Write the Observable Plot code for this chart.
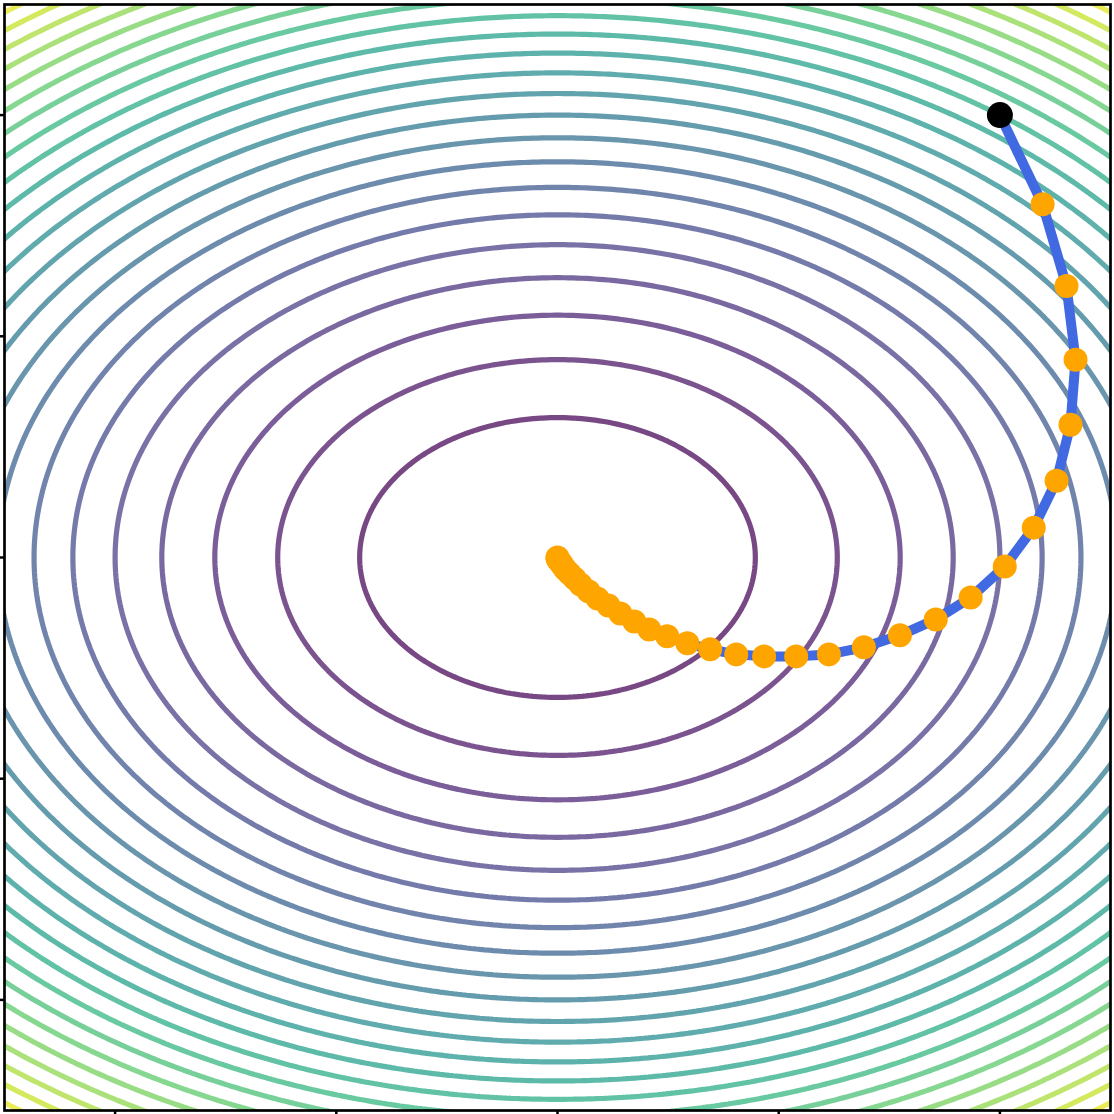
<!DOCTYPE html>
<html>
<head>
<meta charset="utf-8">
<script src="https://cdn.jsdelivr.net/npm/d3@7"></script>
<script src="https://cdn.jsdelivr.net/npm/@observablehq/plot@0.6"></script>
<style>
  html, body { margin: 0; padding: 0; background: #fff; }
  #chart svg { display: block; background: #fff; }
</style>
</head>
<body>
<div id="chart"></div>
<script>
// Contour levels of f(x, y) = x^2 + 2 y^2
const levels = [0.8, 1.6, 2.4, 3.2, 4.0, 4.8, 5.6, 6.4, 7.2, 8.0, 8.8, 9.6, 10.4, 11.2, 12.0, 12.8, 13.6, 14.4, 15.2, 16.0, 16.8, 17.6, 18.4];
const axisTicks = [-2, -1, 0, 1, 2];

// Optimisation path (first point = start)
const pathX = [2.0, 2.193, 2.301, 2.342, 2.319, 2.256, 2.153, 2.022, 1.868, 1.710, 1.548, 1.385, 1.227, 1.079, 0.934, 0.808, 0.690, 0.587, 0.496, 0.415, 0.347, 0.284, 0.230, 0.181, 0.140, 0.104, 0.077, 0.054, 0.036, 0.023, 0.014, 0.005, 0.0, 0.0];
const pathY = [2.0, 1.597, 1.227, 0.894, 0.600, 0.347, 0.135, -0.041, -0.181, -0.280, -0.352, -0.406, -0.438, -0.447, -0.447, -0.438, -0.415, -0.388, -0.356, -0.325, -0.289, -0.253, -0.217, -0.185, -0.153, -0.122, -0.095, -0.072, -0.054, -0.036, -0.023, -0.014, -0.005, 0.0];

const f = (x, y) => x * x + 2 * y * y;
const idx = d3.range(pathX.length);

const chart = Plot.plot({
  width: 1114,
  height: 1114,
  marginLeft: 4,
  marginRight: 4,
  marginTop: 4,
  marginBottom: 4,
  x: {domain: [-2.5, 2.5], ticks: axisTicks},
  y: {domain: [-2.5, 2.5], ticks: axisTicks},
  color: {type: "linear", scheme: "viridis", domain: [0.8, 19.2]},
  marks: [
    Plot.contour({
      value: f,
      x1: -5, x2: 5, y1: -5, y2: 5,
      width: 500, height: 500,
      thresholds: levels,
      fill: "none",
      stroke: "value",
      strokeWidth: 5.2,
      strokeOpacity: 0.72,
      clip: true
    }),
    Plot.line(idx, {
      x: i => pathX[i], y: i => pathY[i],
      stroke: "#4169e1", strokeWidth: 10, strokeLinejoin: "round", clip: true
    }),
    Plot.dot(idx.slice(1), {
      x: i => pathX[i], y: i => pathY[i],
      r: 12, fill: "#ffa500", stroke: "none"
    }),
    Plot.dot([0], {
      x: i => pathX[i], y: i => pathY[i],
      r: 13, fill: "black", stroke: "none"
    }),
    Plot.frame({stroke: "black", strokeWidth: 2.7}),
    Plot.axisX({anchor: "bottom", ticks: axisTicks, tickSize: 4, tickFormat: () => "", strokeWidth: 2.5, label: null}),
    Plot.axisY({anchor: "left", ticks: axisTicks, tickSize: 4, tickFormat: () => "", strokeWidth: 2.5, label: null})
  ]
});
document.getElementById("chart").appendChild(chart);
</script>
</body>
</html>
